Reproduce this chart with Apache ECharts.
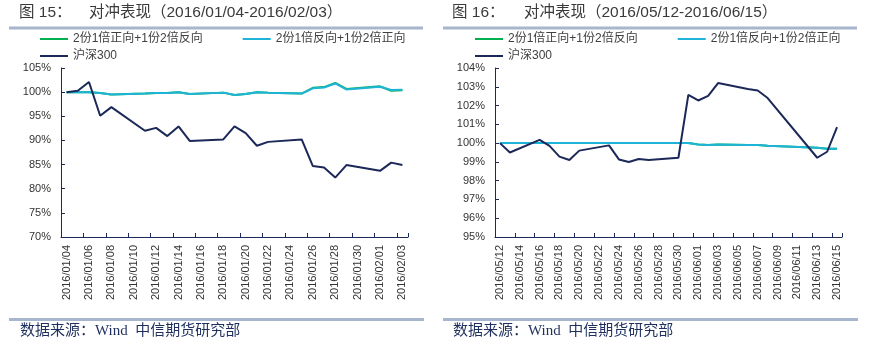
<!DOCTYPE html>
<html><head><meta charset="utf-8">
<script src="https://cdn.jsdelivr.net/npm/echarts@6/dist/echarts.min.js"></script>
<style>html,body{margin:0;padding:0;background:#fff}#c{width:870px;height:349px}</style>
</head><body><div id="c"></div>
<script>
// ---------- Data ----------
var seriesNames = ['2份1倍正向+1份2倍反向', '2份1倍反向+1份2倍正向', '沪深300'];

// Chart 15: 2016/01/04 - 2016/02/03
var datesA = ['2016/01/04','2016/01/05','2016/01/06','2016/01/07','2016/01/08','2016/01/11','2016/01/12','2016/01/13','2016/01/14','2016/01/15','2016/01/18','2016/01/19','2016/01/20','2016/01/21','2016/01/22','2016/01/25','2016/01/26','2016/01/27','2016/01/28','2016/01/29','2016/02/01','2016/02/02','2016/02/03'];
var longA  = [100.0,100.0,100.0,99.8,99.5,99.7,99.8,99.8,100.0,99.6,99.9,99.4,99.6,100.0,99.9,99.7,100.9,101.05,101.9,100.65,101.2,100.3,100.4];
var shortA = [100.0,100.0,100.0,99.8,99.5,99.7,99.8,99.8,100.0,99.6,99.9,99.4,99.6,100.0,99.9,99.7,100.8,100.95,101.8,100.55,101.1,100.45,100.5];
var hs300A = [100.0,100.3,102.1,95.1,96.9,92.0,92.6,90.9,92.9,89.9,90.2,92.9,91.5,88.9,89.7,90.2,84.7,84.4,82.3,84.9,83.7,85.4,84.9];
var yTicksA = {min: 70, max: 105, interval: 5};

// Chart 16: 2016/05/12 - 2016/06/15
var datesB = ['2016/05/12','2016/05/13','2016/05/16','2016/05/17','2016/05/18','2016/05/19','2016/05/20','2016/05/23','2016/05/24','2016/05/25','2016/05/26','2016/05/27','2016/05/30','2016/05/31','2016/06/01','2016/06/02','2016/06/03','2016/06/06','2016/06/07','2016/06/08','2016/06/13','2016/06/14','2016/06/15'];
var longB  = [100.0,100.0,100.0,100.0,100.0,100.0,100.0,100.0,100.0,100.0,100.0,100.0,100.0,100.0,99.92,99.9,99.92,99.9,99.9,99.86,99.75,99.7,99.7];
var shortB = [100.0,100.0,100.0,100.0,100.0,100.0,100.0,100.0,100.0,100.0,100.0,100.0,100.0,100.0,99.92,99.9,99.92,99.9,99.9,99.86,99.75,99.7,99.7];
var hs300B = [100.0,99.5,100.17,99.85,99.28,99.1,99.6,99.88,99.13,98.99,99.15,99.1,99.22,102.57,102.27,102.52,103.2,102.88,102.8,102.4,99.22,99.54,100.85];
var yTicksB = {min: 95, max: 104, interval: 1};

// ---------- Helpers ----------
function pad(n){return (n<10?'0':'')+n;}
function calendarDays(first, last){
  var p1 = first.split('/'), p2 = last.split('/');
  var d = new Date(Date.UTC(+p1[0], +p1[1]-1, +p1[2]));
  var e = new Date(Date.UTC(+p2[0], +p2[1]-1, +p2[2]));
  var out = [];
  while (d <= e) {
    out.push(d.getUTCFullYear()+'/'+pad(d.getUTCMonth()+1)+'/'+pad(d.getUTCDate()));
    d = new Date(d.getTime()+86400000);
  }
  return out;
}
function mapToCalendar(cats, dates, vals){
  var m = {};
  dates.forEach(function(dt,i){ m[dt] = vals[i]; });
  return cats.map(function(c){ return (c in m) ? m[c] : null; });
}

var catsA = calendarDays(datesA[0], datesA[datesA.length-1]);
var catsB = calendarDays(datesB[0], datesB[datesB.length-1]);

var colGreen = '#00b050', colCyan = '#1eb4d8', colNavy = '#1b2858';
var axisCol = '#1b2858';
var labelFont = 'Liberation Sans, Arial, sans-serif';
var cjkFont = 'Liberation Sans, Noto Sans CJK SC, sans-serif';

function xAxis(idx, cats){
  return {
    type: 'category', gridIndex: idx, data: cats, boundaryGap: true,
    axisLine: {lineStyle: {color: axisCol, width: 1}},
    axisTick: {show: true, inside: true, length: 4, interval: 1, lineStyle: {color: axisCol}},
    axisLabel: {interval: 1, rotate: 90, fontSize: 11, color: '#333', fontFamily: labelFont, margin: 8},
    splitLine: {show: false}
  };
}
function yAxis(idx, t){
  return {
    type: 'value', gridIndex: idx, min: t.min, max: t.max, interval: t.interval,
    axisLine: {show: true, lineStyle: {color: axisCol, width: 1}},
    axisTick: {show: true, inside: true, length: 4, lineStyle: {color: axisCol}},
    axisLabel: {formatter: '{value}%', fontSize: 11, color: '#333', fontFamily: labelFont, margin: 10},
    splitLine: {show: false}
  };
}
function lineSeries(name, idx, data, color){
  return {
    name: name, type: 'line', xAxisIndex: idx, yAxisIndex: idx,
    data: data, connectNulls: true, showSymbol: false, symbol: 'none',
    lineStyle: {color: color, width: 2}, itemStyle: {color: color}, animation: false
  };
}
function legend(left, top, names){
  return {
    left: left, top: top, data: names, icon: 'rect', itemWidth: 28, itemHeight: 2,
    itemGap: 40, textStyle: {fontSize: 12, color: '#404040', fontFamily: cjkFont},
    padding: 0, selectedMode: false
  };
}

var titleStyle = {fontSize: 15.5, fill: '#3a3a3a', fontFamily: cjkFont};
var footStyle = {fontSize: 15, fill: '#1f2f5e', fontFamily: 'Liberation Serif, Noto Sans CJK SC, serif'};

var chart = echarts.init(document.getElementById('c'), null, {renderer: 'canvas'});
chart.setOption({
  animation: false,
  backgroundColor: '#fff',
  grid: [
    {left: 61, top: 68, width: 347, height: 169, containLabel: false},
    {left: 495, top: 68, width: 347, height: 169, containLabel: false}
  ],
  xAxis: [xAxis(0, catsA), xAxis(1, catsB)],
  yAxis: [yAxis(0, yTicksA), yAxis(1, yTicksB)],
  legend: [
    legend(40, 33, [seriesNames[0], seriesNames[1]]),
    legend(40, 50, [seriesNames[2]]),
    legend(475, 33, [seriesNames[0], seriesNames[1]]),
    legend(475, 50, [seriesNames[2]])
  ],
  series: [
    lineSeries(seriesNames[0], 0, mapToCalendar(catsA, datesA, longA), colGreen),
    lineSeries(seriesNames[1], 0, mapToCalendar(catsA, datesA, shortA), colCyan),
    lineSeries(seriesNames[2], 0, mapToCalendar(catsA, datesA, hs300A), colNavy),
    lineSeries(seriesNames[0], 1, mapToCalendar(catsB, datesB, longB), colGreen),
    lineSeries(seriesNames[1], 1, mapToCalendar(catsB, datesB, shortB), colCyan),
    lineSeries(seriesNames[2], 1, mapToCalendar(catsB, datesB, hs300B), colNavy)
  ],
  graphic: [
    {type: 'text', left: 19, top: 5, style: Object.assign({text: '图 15：'}, titleStyle)},
    {type: 'text', left: 89, top: 5, style: Object.assign({text: '对冲表现（2016/01/04-2016/02/03）'}, titleStyle)},
    {type: 'text', left: 452, top: 5, style: Object.assign({text: '图 16：'}, titleStyle)},
    {type: 'text', left: 524, top: 5, style: Object.assign({text: '对冲表现（2016/05/12-2016/06/15）'}, titleStyle)},
    {type: 'rect', shape: {x: 9, y: 26.5, width: 414, height: 3}, style: {fill: '#a7b6cc'}},
    {type: 'rect', shape: {x: 443, y: 26.5, width: 414, height: 3}, style: {fill: '#a7b6cc'}},
    {type: 'rect', shape: {x: 9, y: 318, width: 415, height: 3}, style: {fill: '#a7b6cc'}},
    {type: 'rect', shape: {x: 443, y: 318, width: 415, height: 3}, style: {fill: '#a7b6cc'}},
    {type: 'text', left: 20, top: 324, style: Object.assign({text: '数据来源：Wind  中信期货研究部'}, footStyle)},
    {type: 'text', left: 453, top: 324, style: Object.assign({text: '数据来源：Wind  中信期货研究部'}, footStyle)}
  ]
});
</script>
</body></html>
